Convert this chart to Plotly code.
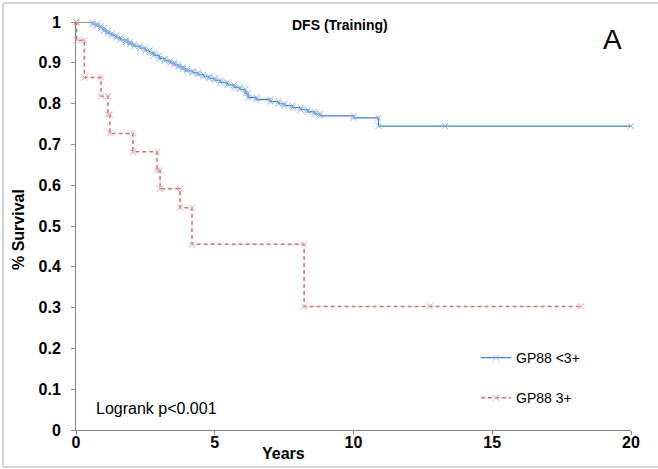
import plotly.graph_objects as go

# ---- data ----
blue_name = "GP88 <3+"
red_name = "GP88 3+"

blue_t = [0, 0.6, 0.75, 0.9, 1.0, 1.15, 1.3, 1.45, 1.6, 1.8, 1.95, 2.1, 2.3, 2.5, 2.65, 2.8,
          3.0, 3.2, 3.4, 3.55, 3.7, 3.85, 4.0, 4.2, 4.4, 4.6, 4.8, 5.0, 5.2, 5.45, 5.7, 5.9,
          6.1, 6.2, 6.5, 7.0, 7.3, 7.5, 7.8, 8.1, 8.35, 8.6, 8.8, 10.0, 10.9]
blue_s = [1.0, 0.995, 0.99, 0.985, 0.978, 0.972, 0.967, 0.962, 0.956, 0.951, 0.946, 0.941,
          0.936, 0.930, 0.925, 0.918, 0.910, 0.905, 0.900, 0.895, 0.890, 0.885, 0.880, 0.876,
          0.871, 0.866, 0.862, 0.857, 0.852, 0.846, 0.840, 0.835, 0.825, 0.815, 0.810, 0.805,
          0.800, 0.795, 0.790, 0.785, 0.780, 0.775, 0.770, 0.765, 0.745]
blue_censor = [13.3, 20.0]

red_t = [0, 0.02, 0.3, 0.9, 1.15, 1.22, 2.05, 2.92, 3.03, 3.75, 4.18, 8.22]
red_s = [1.0, 0.955, 0.864, 0.818, 0.773, 0.727, 0.682, 0.636, 0.591, 0.545, 0.455, 0.303]
red_censor = [12.75, 18.2]

x_ticks = [0, 5, 10, 15, 20]
y_ticks = [0, 0.1, 0.2, 0.3, 0.4, 0.5, 0.6, 0.7, 0.8, 0.9, 1]
y_tick_labels = ["0", "0.1", "0.2", "0.3", "0.4", "0.5", "0.6", "0.7", "0.8", "0.9", "1"]


def steps(t, s, cens):
    xs, ys = [t[0]], [s[0]]
    for i in range(1, len(t)):
        xs += [t[i], t[i]]
        ys += [s[i - 1], s[i]]
    for c in cens:
        xs.append(c)
        ys.append(s[-1])
    return xs, ys


bx, by = steps(blue_t, blue_s, blue_censor)
rx, ry = steps(red_t, red_s, red_censor)

FONT = "Liberation Sans, Arial, sans-serif"

# pixel helpers for layout placement (plot area: x 76..631, y 22..430)
def px(x):
    return (x - 76) / 555


def py(y):
    return (430 - y) / 408


fig = go.Figure()
fig.add_trace(go.Scatter(
    x=bx, y=by, mode="lines+markers", name=blue_name, legendgroup="a",
    line=dict(color="#4a7ebb", width=1.3),
    marker=dict(symbol="x-thin", size=6, color="#8db4e2",
                line=dict(color="#8db4e2", width=1)),
    cliponaxis=False,
))
fig.add_trace(go.Scatter(
    x=rx, y=ry, mode="lines+markers", name=red_name, legendgroup="b",
    line=dict(color="#d0706c", width=1.5, dash="4px,3px"),
    marker=dict(symbol="x-thin", size=6, color="#e0a09c",
                line=dict(color="#e0a09c", width=1)),
    cliponaxis=False,
))

fig.update_layout(
    width=658, height=469,
    margin=dict(l=76, r=27, t=22, b=39),
    paper_bgcolor="white", plot_bgcolor="white",
    font=dict(family=FONT, size=14, color="black"),
    showlegend=True,
    legend=dict(x=px(476), y=py(342), xanchor="left", yanchor="top",
                bgcolor="rgba(0,0,0,0)", font=dict(size=14, family=FONT),
                tracegroupgap=19, itemwidth=30, traceorder="grouped"),
    xaxis=dict(range=[0, 20], tickvals=x_ticks, ticktext=[str(v) for v in x_ticks],
               showgrid=False, zeroline=False, showline=True, linecolor="#868686",
               linewidth=1, ticks="outside", ticklen=4, tickcolor="#868686",
               ticklabelstandoff=-6,
               tickfont=dict(family=FONT, size=16, color="black", weight="bold"),
               fixedrange=True),
    yaxis=dict(range=[0, 1], tickvals=y_ticks, ticktext=y_tick_labels,
               showgrid=False, zeroline=False, showline=True, linecolor="#868686",
               linewidth=1, ticks="outside", ticklen=4, tickcolor="#868686",
               ticklabelstandoff=7,
               tickfont=dict(family=FONT, size=16, color="black", weight="bold"),
               fixedrange=True),
    annotations=[
        dict(text="<b>DFS (Training)</b>", x=px(340), y=py(25),
             xref="paper", yref="paper", showarrow=False, font=dict(size=14),
             xanchor="center", yanchor="middle"),
        dict(text="A", x=px(612), y=py(40),
             xref="paper", yref="paper", showarrow=False, font=dict(size=28),
             xanchor="center", yanchor="middle"),
        dict(text="<b>Years</b>", x=px(283), y=py(453),
             xref="paper", yref="paper", showarrow=False, font=dict(size=16),
             xanchor="center", yanchor="middle"),
        dict(text="<b>% Survival</b>", x=px(18), y=py(230),
             xref="paper", yref="paper", showarrow=False, textangle=-90,
             font=dict(size=16), xanchor="center", yanchor="middle"),
        dict(text="Logrank p<0.001", x=px(94), y=py(408),
             xref="paper", yref="paper", showarrow=False, xanchor="left",
             yanchor="middle", font=dict(size=16)),
    ],
    shapes=[
        dict(type="line", xref="paper", yref="paper",
             x0=px(3), x1=px(658), y0=py(3), y1=py(3),
             line=dict(color="#d4d4d4", width=2)),
        dict(type="line", xref="paper", yref="paper",
             x0=px(3), x1=px(3), y0=py(3), y1=py(467),
             line=dict(color="#d4d4d4", width=2)),
        dict(type="line", xref="paper", yref="paper",
             x0=px(3), x1=px(658), y0=py(467), y1=py(467),
             line=dict(color="#d4d4d4", width=2)),
    ],
)

fig.write_html("out.html", config={"displayModeBar": False},
               post_script="document.body.style.margin='0px';")
